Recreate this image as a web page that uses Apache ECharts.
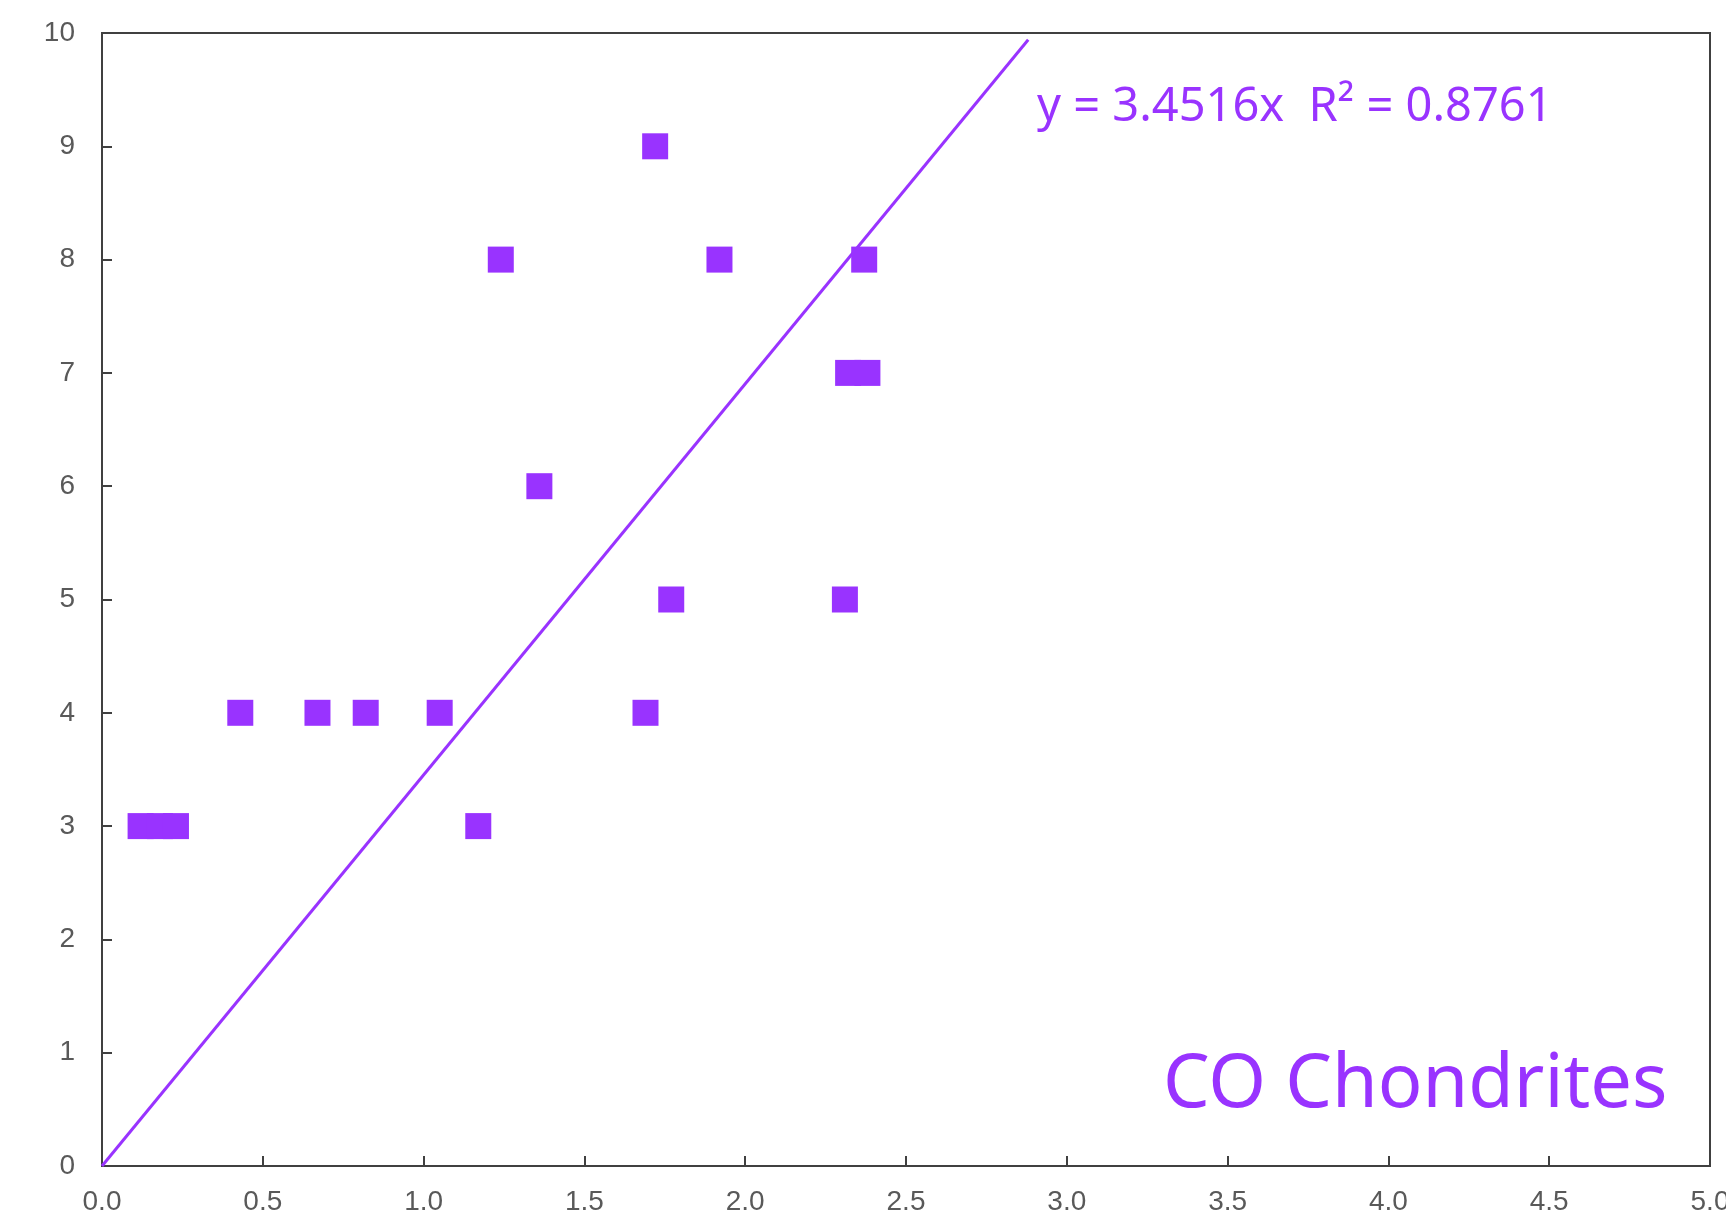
<!DOCTYPE html>
<html>
<head>
<meta charset="utf-8">
<script src="https://cdn.jsdelivr.net/npm/echarts@6/dist/echarts.min.js"></script>
<style>
  html, body { margin: 0; padding: 0; background: #fff; }
  #chart { width: 1726px; height: 1225px; }
</style>
</head>
<body>
<div id="chart"></div>
<script>
// measured points (x, y)
const ptX = [0.12, 0.18, 0.23, 0.43, 0.67, 0.82, 1.05, 1.17, 1.24, 1.36, 1.69, 1.72, 1.77, 1.92, 2.31, 2.32, 2.38, 2.37];
const ptY = [3, 3, 3, 4, 4, 4, 4, 3, 8, 6, 4, 9, 5, 8, 5, 7, 7, 8];
// trend line end points as drawn
const trendX = [0, 2.88];
const trendY = [0, 9.94];
const xTicks = ['0.0', '0.5', '1.0', '1.5', '2.0', '2.5', '3.0', '3.5', '4.0', '4.5', '5.0'];
const eqText = 'y = 3.4516x  R² = 0.8761';
const groupText = 'CO Chondrites';

const purple = '#9933ff';
const axisColor = '#404040';
const labelColor = '#595959';

const chart = echarts.init(document.getElementById('chart'));

const option = {
  animation: false,
  backgroundColor: '#ffffff',
  grid: {
    left: 102, right: 16, top: 33, bottom: 59,
    outerBoundsMode: 'none',
    show: true, borderColor: axisColor, borderWidth: 2
  },
  xAxis: {
    type: 'value', min: 0, max: 5, interval: 0.5,
    axisLine: { show: true, lineStyle: { color: axisColor, width: 2 } },
    axisTick: { show: true, inside: true, length: 10, lineStyle: { color: axisColor, width: 2 } },
    splitLine: { show: false },
    axisLabel: {
      color: labelColor, fontFamily: 'Liberation Sans', fontSize: 28, margin: 22,
      hideOverlap: false,
      formatter: (v) => xTicks[Math.round(v * 2)]
    }
  },
  yAxis: {
    type: 'value', min: 0, max: 10, interval: 1,
    axisLine: { show: true, lineStyle: { color: axisColor, width: 2 } },
    axisTick: { show: true, inside: true, length: 10, lineStyle: { color: axisColor, width: 2 } },
    splitLine: { show: false },
    axisLabel: { color: labelColor, fontFamily: 'Liberation Sans', fontSize: 28, margin: 27 }
  },
  series: [
    {
      type: 'line',
      data: trendX.map((x, i) => [x, trendY[i]]),
      showSymbol: false,
      lineStyle: { color: purple, width: 3 },
      z: 2
    },
    {
      type: 'scatter',
      data: ptX.map((x, i) => [x, ptY[i]]),
      symbol: 'rect',
      symbolSize: 26,
      itemStyle: { color: purple, opacity: 1 },
      z: 3
    }
  ],
  graphic: [
    {
      type: 'text', left: 1037, top: 84,
      style: { text: eqText, fill: purple, font: '47px "Noto Sans"' }
    },
    {
      type: 'text', left: 1163, top: 1049,
      style: { text: groupText, fill: purple, font: '74px "Noto Sans"' }
    }
  ]
};

chart.setOption(option);
</script>
</body>
</html>
